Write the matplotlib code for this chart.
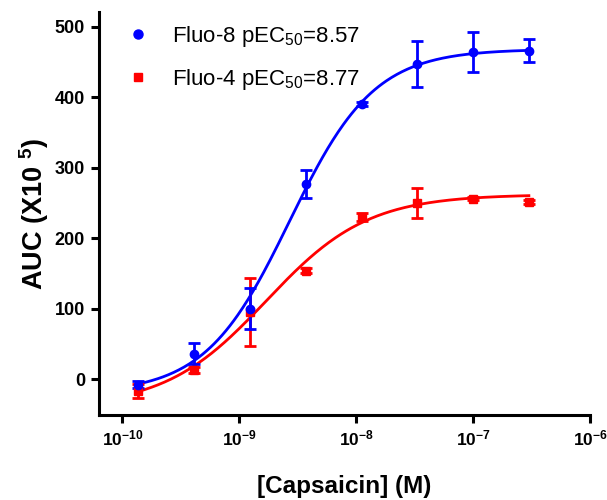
import matplotlib

matplotlib.use("Agg")

import matplotlib.pyplot as plt
import numpy as np
from matplotlib.lines import Line2D

# capsaicin concentrations (M), 3-fold dilutions
doses = [1.372e-10, 4.115e-10, 1.235e-9, 3.704e-9, 1.111e-8, 3.333e-8, 1.0e-7, 3.0e-7]

fluo8_mean = [-8, 36, 100, 277, 390, 447, 464, 466]
fluo8_err = [5, 15, 29, 20, 3, 33, 28, 16]
fluo4_mean = [-17, 13, 95, 154, 230, 250, 256, 251]
fluo4_err = [10, 4, 48, 4, 5, 21, 2, 3]

# fitted four-parameter logistic curves: bottom, top, pEC50, hill slope
fluo8_fit = (-20.0, 468.0, 8.57, 1.2)
fluo4_fit = (-40.0, 262.0, 8.77, 1.0)

x_ticks = [1e-10, 1e-9, 1e-8, 1e-7, 1e-6]
x_tick_labels = ["-10", "-9", "-8", "-7", "-6"]
y_ticks = [0, 100, 200, 300, 400, 500]

plt.rcParams.update(
    {
        "font.family": "Liberation Sans",
        "mathtext.fontset": "custom",
        "mathtext.rm": "Liberation Sans",
        "mathtext.bf": "Liberation Sans:bold",
        "mathtext.default": "regular",
    }
)


def hill(x, bottom, top, pec50, slope):
    return bottom + (top - bottom) / (1.0 + 10 ** ((-pec50 - np.log10(x)) * slope))


fig = plt.figure(figsize=(6.07, 5.0), dpi=100)
ax = fig.add_axes([0.163, 0.171, 0.809, 0.804])

blue = "#0000ff"
red = "#ff0000"

xs = np.logspace(np.log10(doses[0]), np.log10(doses[-1]), 300)
for mean, err, fit, color, marker, ms in [
    (fluo4_mean, fluo4_err, fluo4_fit, red, "s", 6),
    (fluo8_mean, fluo8_err, fluo8_fit, blue, "o", 6),
]:
    ax.plot(xs, hill(xs, *fit), color=color, linewidth=2.0, zorder=3)
    ax.errorbar(
        doses,
        mean,
        yerr=err,
        fmt=marker,
        color=color,
        markersize=ms,
        elinewidth=2.0,
        capsize=4,
        capthick=2.0,
        zorder=4,
    )

ax.set_xscale("log")
ax.set_xlim(10 ** -10.2, 1e-6)
ax.set_ylim(-50, 520)
ax.set_xticks(x_ticks)
ax.set_xticklabels([f"$\\mathbf{{10^{{{t}}}}}$" for t in x_tick_labels], fontsize=12.5)
ax.xaxis.set_minor_locator(matplotlib.ticker.NullLocator())
ax.set_yticks(y_ticks)
ax.set_yticklabels([str(v) for v in y_ticks], fontweight="bold", fontsize=13)

for side in ["top", "right"]:
    ax.spines[side].set_visible(False)
for side in ["left", "bottom"]:
    ax.spines[side].set_linewidth(2.2)
ax.tick_params(width=2.2, length=6, pad=4)

ax.set_xlabel("[Capsaicin] (M)", fontsize=17.5, fontweight="bold", labelpad=19)
ax.set_ylabel("AUC (X10 $\\mathbf{^{5}}$)", fontsize=19.5, fontweight="bold", labelpad=3)

handles = [
    Line2D([], [], color=blue, marker="o", linestyle="none", markersize=6.5),
    Line2D([], [], color=red, marker="s", linestyle="none", markersize=6),
]
ax.legend(
    handles,
    ["Fluo-8 pEC$_{50}$=8.57", "Fluo-4 pEC$_{50}$=8.77"],
    loc="upper left",
    bbox_to_anchor=(127 / 607, 1 - 24 / 500),
    bbox_transform=fig.transFigure,
    borderaxespad=0,
    borderpad=0,
    frameon=False,
    fontsize=16,
    handlelength=1.0,
    handletextpad=1.03,
    labelspacing=0.82,
)

fig.savefig("out.png", dpi=100, facecolor="white")
